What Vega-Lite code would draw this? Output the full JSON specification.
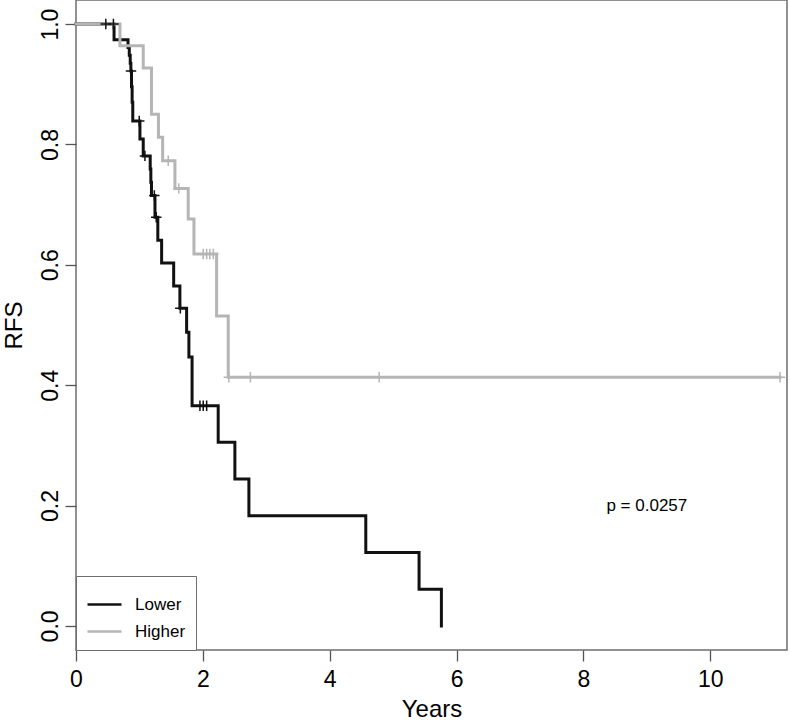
{
  "$schema": "https://vega.github.io/schema/vega-lite/v6.json",
  "width": 711,
  "height": 650,
  "autosize": {"type": "none"},
  "padding": {"left": 76, "top": 0, "right": 3, "bottom": 70},
  "background": "white",
  "config": {
    "font": "Liberation Sans",
    "view": {"stroke": "#6e6e6e", "strokeWidth": 1.5},
    "axis": {"grid": false, "domain": false, "tickColor": "#555", "tickWidth": 1.3, "tickSize": 11, "labelColor": "#000", "titleColor": "#000", "titleFontWeight": "normal", "labelFlush": false, "labelOverlap": false}
  },
  "datasets": {
    "curves": [
      {"group": "Lower", "time": 0, "surv": 1},
      {"group": "Lower", "time": 0.60, "surv": 0.974},
      {"group": "Lower", "time": 0.82, "surv": 0.961},
      {"group": "Lower", "time": 0.84, "surv": 0.948},
      {"group": "Lower", "time": 0.855, "surv": 0.935},
      {"group": "Lower", "time": 0.865, "surv": 0.922},
      {"group": "Lower", "time": 0.875, "surv": 0.896},
      {"group": "Lower", "time": 0.885, "surv": 0.870},
      {"group": "Lower", "time": 0.895, "surv": 0.839},
      {"group": "Lower", "time": 1.008, "surv": 0.809},
      {"group": "Lower", "time": 1.06, "surv": 0.781},
      {"group": "Lower", "time": 1.17, "surv": 0.759},
      {"group": "Lower", "time": 1.18, "surv": 0.737},
      {"group": "Lower", "time": 1.19, "surv": 0.715},
      {"group": "Lower", "time": 1.245, "surv": 0.679},
      {"group": "Lower", "time": 1.29, "surv": 0.641},
      {"group": "Lower", "time": 1.35, "surv": 0.603},
      {"group": "Lower", "time": 1.54, "surv": 0.565},
      {"group": "Lower", "time": 1.638, "surv": 0.528},
      {"group": "Lower", "time": 1.744, "surv": 0.488},
      {"group": "Lower", "time": 1.78, "surv": 0.447},
      {"group": "Lower", "time": 1.83, "surv": 0.366},
      {"group": "Lower", "time": 2.242, "surv": 0.305},
      {"group": "Lower", "time": 2.505, "surv": 0.244},
      {"group": "Lower", "time": 2.726, "surv": 0.183},
      {"group": "Lower", "time": 4.569, "surv": 0.122},
      {"group": "Lower", "time": 5.409, "surv": 0.061},
      {"group": "Lower", "time": 5.761, "surv": 0},
      {"group": "Higher", "time": 0, "surv": 1},
      {"group": "Higher", "time": 0.693, "surv": 0.964},
      {"group": "Higher", "time": 1.06, "surv": 0.927},
      {"group": "Higher", "time": 1.19, "surv": 0.850},
      {"group": "Higher", "time": 1.30, "surv": 0.812},
      {"group": "Higher", "time": 1.366, "surv": 0.773},
      {"group": "Higher", "time": 1.56, "surv": 0.727},
      {"group": "Higher", "time": 1.769, "surv": 0.676},
      {"group": "Higher", "time": 1.86, "surv": 0.618},
      {"group": "Higher", "time": 2.217, "surv": 0.515},
      {"group": "Higher", "time": 2.40, "surv": 0.413},
      {"group": "Higher", "time": 11.1, "surv": 0.413}
    ],
    "censor": [
      {"group": "Lower", "time": 0.47, "surv": 1},
      {"group": "Lower", "time": 0.59, "surv": 1},
      {"group": "Lower", "time": 0.867, "surv": 0.922},
      {"group": "Lower", "time": 0.997, "surv": 0.839},
      {"group": "Lower", "time": 1.087, "surv": 0.781},
      {"group": "Lower", "time": 1.235, "surv": 0.715},
      {"group": "Lower", "time": 1.265, "surv": 0.679},
      {"group": "Lower", "time": 1.645, "surv": 0.528},
      {"group": "Lower", "time": 1.954, "surv": 0.366},
      {"group": "Lower", "time": 2.006, "surv": 0.366},
      {"group": "Lower", "time": 2.06, "surv": 0.366},
      {"group": "Higher", "time": 1.454, "surv": 0.773},
      {"group": "Higher", "time": 1.62, "surv": 0.727},
      {"group": "Higher", "time": 2.006, "surv": 0.618},
      {"group": "Higher", "time": 2.06, "surv": 0.618},
      {"group": "Higher", "time": 2.11, "surv": 0.618},
      {"group": "Higher", "time": 2.165, "surv": 0.618},
      {"group": "Higher", "time": 2.41, "surv": 0.413},
      {"group": "Higher", "time": 2.75, "surv": 0.413},
      {"group": "Higher", "time": 4.78, "surv": 0.413},
      {"group": "Higher", "time": 11.1, "surv": 0.413}
    ],
    "notes": [
      {"time": 9.0, "surv": 0.2, "label": "p = 0.0257"}
    ]
  },
  "layer": [
    {
      "data": {"name": "curves"},
      "mark": {"type": "line", "interpolate": "step-after", "strokeWidth": 3, "strokeCap": "square"},
      "encoding": {
        "x": {"field": "time", "type": "quantitative", "scale": {"domain": [0, 11.21], "nice": false, "zero": false},
              "axis": {"values": [0, 2, 4, 6, 8, 10], "format": "d", "labelFontSize": 23, "labelPadding": 7, "title": "Years", "titleFontSize": 24, "titlePadding": 6}},
        "y": {"field": "surv", "type": "quantitative", "scale": {"domain": [-0.04, 1.04], "nice": false, "zero": false},
              "axis": {"values": [0, 0.2, 0.4, 0.6, 0.8, 1.0], "format": ".1f", "labelAngle": -90, "labelAlign": "center", "labelBaseline": "bottom", "labelFontSize": 23, "labelPadding": 3, "title": "RFS", "titleFontSize": 24, "titlePadding": 13}},
        "color": {"field": "group", "type": "nominal",
                  "scale": {"domain": ["Lower", "Higher"], "range": ["#111111", "#b5b5b5"]},
                  "legend": {"title": null, "orient": "bottom-left", "offset": 0, "strokeColor": "#6e6e6e", "padding": 10, "fillColor": "white",
                             "symbolType": "stroke", "symbolSize": 1156, "symbolStrokeWidth": 2.5, "labelFontSize": 17, "labelOffset": 12, "rowPadding": -9}},
        "detail": {"field": "group"}
      }
    },
    {
      "data": {"name": "censor"},
      "mark": {"type": "point", "shape": "M-1,0L1,0M0,-1L0,1", "filled": false, "size": 110, "strokeWidth": 1.5, "opacity": 1},
      "encoding": {
        "x": {"field": "time", "type": "quantitative"},
        "y": {"field": "surv", "type": "quantitative"},
        "stroke": {"field": "group", "type": "nominal", "scale": {"domain": ["Lower", "Higher"], "range": ["#111111", "#b5b5b5"]}, "legend": null}
      }
    },
    {
      "data": {"name": "notes"},
      "mark": {"type": "text", "fontSize": 17, "align": "center", "baseline": "middle", "color": "#000"},
      "encoding": {
        "x": {"field": "time", "type": "quantitative"},
        "y": {"field": "surv", "type": "quantitative"},
        "text": {"field": "label"}
      }
    }
  ],
  "resolve": {"scale": {"stroke": "independent"}}
}
